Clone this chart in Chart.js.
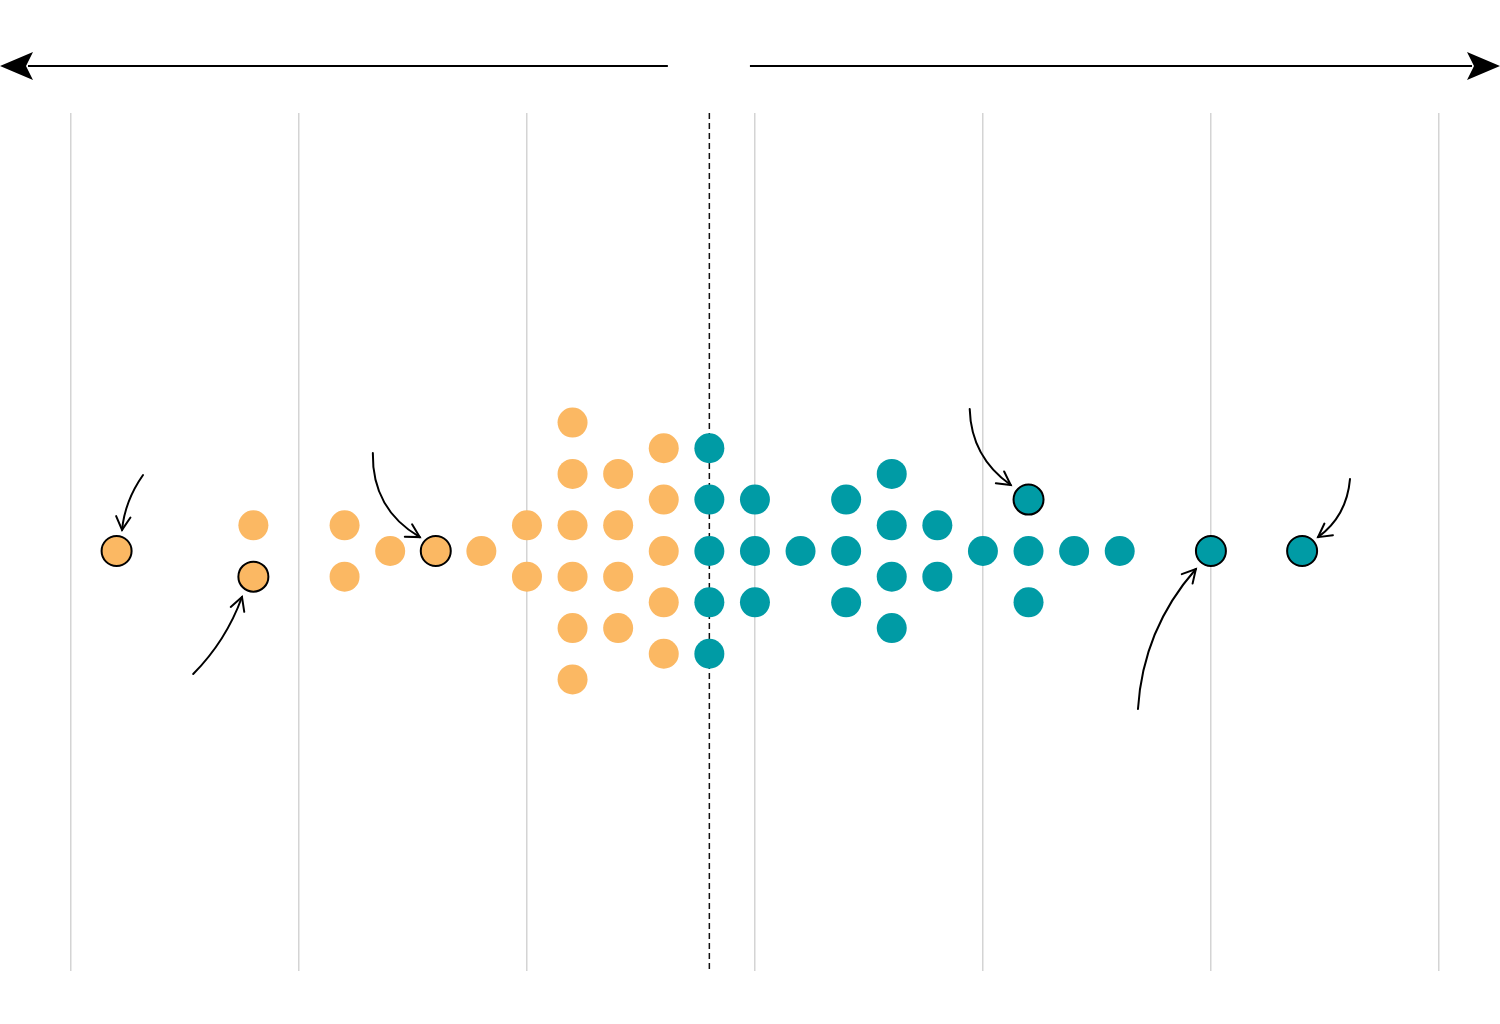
<!DOCTYPE html>
<html lang="en">
<head>
  <meta charset="UTF-8" />
  <title>Beeswarm</title>
  <script src="https://cdn.jsdelivr.net/npm/chart.js"></script>
  <style>
    html, body {
      margin: 0;
      padding: 0;
      background: white;
    }
    .wrap {
      width: 1500px;
      height: 1024px;
    }
  </style>
</head>
<body>
  <div class="wrap">
    <canvas id="swarm" width="1500" height="1024"></canvas>
  </div>

  <script>
    // values (x = column, y = stack position)
    const leftX  = [1, 4, 4, 6, 6, 7, 8, 9, 10, 10, 11, 11, 11, 11, 11, 11, 12, 12, 12, 12, 13, 13, 13, 13, 13];
    const leftY  = [0, 1, -1, 1, -1, 0, 0, 0, 1, -1, 5, 3, 1, -1, -3, -5, 3, 1, -1, -3, 4, 2, 0, -2, -4];
    const leftMarked = [0, 2, 6];

    const rightX = [14, 14, 14, 14, 14, 15, 15, 15, 16, 17, 17, 17, 18, 18, 18, 18, 19, 19, 20, 21, 21, 21, 22, 23, 25, 27];
    const rightY = [4, 2, 0, -2, -4, 2, 0, -2, 0, 2, 0, -2, 3, 1, -1, -3, 1, -1, 0, 2, 0, -2, 0, 0, 0, 0];
    const rightMarked = [19, 24, 25];

    const gridTicks = [0, 5, 10, 15, 20, 25, 30];
    const midValue = 14;

    // curved pointers: start, bend, end (in axis units)
    const pointers = [
      [[1.58, 2.96], [1.18, 1.95], [1.12, 0.82]],
      [[2.68, -4.79], [3.40, -3.50], [3.75, -1.79]],
      [[6.62, 3.81], [6.6, 1.63], [7.65, 0.54]],
      [[19.71, 5.53], [19.74, 3.66], [20.61, 2.57]],
      [[23.4, -6.15], [23.51, -3.04], [24.67, -0.70]],
      [[28.05, 2.80], [27.98, 1.36], [27.35, 0.54]]
    ];

    const toPoints = (xs, ys) => xs.map((x, i) => ({ x: x, y: ys[i] }));

    const extras = {
      id: "extras",
      beforeDatasetsDraw(chart) {
        const { ctx, chartArea, scales } = chart;
        const px = scales.x.getPixelForValue(midValue);
        ctx.save();
        ctx.strokeStyle = "#111";
        ctx.lineWidth = 1.5;
        ctx.setLineDash([6, 4]);
        ctx.beginPath();
        ctx.moveTo(px, chartArea.top);
        ctx.lineTo(px, chartArea.bottom);
        ctx.stroke();
        ctx.restore();
      },
      afterDraw(chart) {
        const { ctx, scales, width } = chart;
        const sx = scales.x, sy = scales.y;

        // top direction arrows
        const ay = 66;
        const leftEnd = sx.getPixelForValue(midValue - 0.91);
        const rightStart = sx.getPixelForValue(midValue + 0.89);
        ctx.save();
        ctx.strokeStyle = "#000";
        ctx.fillStyle = "#000";
        ctx.lineWidth = 2;
        ctx.beginPath();
        ctx.moveTo(leftEnd, ay);
        ctx.lineTo(28, ay);
        ctx.moveTo(rightStart, ay);
        ctx.lineTo(width - 28, ay);
        ctx.stroke();

        ctx.beginPath();
        ctx.moveTo(0, ay);
        ctx.lineTo(33, ay - 14);
        ctx.lineTo(26, ay);
        ctx.lineTo(33, ay + 14);
        ctx.closePath();
        ctx.fill();

        ctx.beginPath();
        ctx.moveTo(width, ay);
        ctx.lineTo(width - 33, ay - 14);
        ctx.lineTo(width - 26, ay);
        ctx.lineTo(width - 33, ay + 14);
        ctx.closePath();
        ctx.fill();

        // curved pointers
        ctx.lineWidth = 2;
        ctx.lineCap = "round";
        pointers.forEach(p => {
          const [s, c, e] = p.map(q => [sx.getPixelForValue(q[0]), sy.getPixelForValue(q[1])]);
          ctx.beginPath();
          ctx.moveTo(s[0], s[1]);
          ctx.quadraticCurveTo(c[0], c[1], e[0], e[1]);
          ctx.stroke();
          const ang = Math.atan2(e[1] - c[1], e[0] - c[0]);
          const len = 15, spread = 0.5;
          ctx.beginPath();
          ctx.moveTo(e[0] - len * Math.cos(ang - spread), e[1] - len * Math.sin(ang - spread));
          ctx.lineTo(e[0], e[1]);
          ctx.lineTo(e[0] - len * Math.cos(ang + spread), e[1] - len * Math.sin(ang + spread));
          ctx.stroke();
        });
        ctx.restore();
      }
    };

    new Chart(document.getElementById("swarm").getContext("2d"), {
      type: "scatter",
      data: {
        datasets: [
          {
            label: "left",
            data: toPoints(leftX, leftY),
            backgroundColor: "#fbb863",
            borderColor: "#000",
            pointRadius: 15,
            pointHoverRadius: 15,
            pointBorderWidth: ctx => leftMarked.includes(ctx.dataIndex) ? 2 : 0
          },
          {
            label: "right",
            data: toPoints(rightX, rightY),
            backgroundColor: "#009ba5",
            borderColor: "#000",
            pointRadius: 15,
            pointHoverRadius: 15,
            pointBorderWidth: ctx => rightMarked.includes(ctx.dataIndex) ? 2 : 0
          }
        ]
      },
      options: {
        responsive: false,
        animation: false,
        layout: { autoPadding: false, padding: { top: 113, bottom: 53, left: 0, right: 0 } },
        plugins: {
          legend: { display: false },
          tooltip: { enabled: false }
        },
        scales: {
          x: {
            min: -1.557,
            max: 31.34,
            afterBuildTicks: scale => { scale.ticks = gridTicks.map(v => ({ value: v })); },
            ticks: { display: false },
            border: { display: false },
            grid: { color: "#d4d4d4", lineWidth: 1.5, drawTicks: false }
          },
          y: {
            display: false,
            min: -16.35,
            max: 17.05
          }
        }
      },
      plugins: [extras]
    });
  </script>
</body>
</html>
